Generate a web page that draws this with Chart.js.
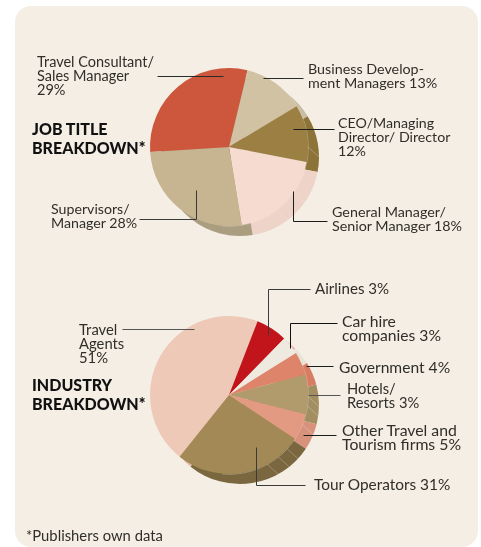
<!DOCTYPE html>
<html>
<head>
<meta charset="utf-8">
<title>Breakdown</title>
<script src="https://cdn.jsdelivr.net/npm/chart.js@4/dist/chart.umd.min.js"></script>
<style>
  html, body { margin: 0; padding: 0; background: #fff; }
  #page { position: relative; width: 481px; height: 547px; overflow: hidden; font-family: Lato, sans-serif; color: #302e29; }
  #panel { position: absolute; left: 15px; top: 6px; width: 463px; height: 541px; background: #f4eee5; border-radius: 16px; }
  canvas { position: absolute; }
  #leaders { position: absolute; left: 0; top: 0; }
  .lbl { position: absolute; line-height: 14px; white-space: pre; }
  .head { position: absolute; font-size: 16px; line-height: 18.5px; font-weight: 900; color: #111; white-space: pre; }
</style>
</head>
<body>
<div id="page">
  <div id="panel"></div>
  <canvas id="jobSide" width="200" height="200" style="left:140px;top:57px"></canvas>
  <canvas id="jobTop" width="200" height="200" style="left:129px;top:47px"></canvas>
  <canvas id="indSide" width="200" height="200" style="left:140px;top:305px"></canvas>
  <canvas id="indTop" width="200" height="200" style="left:129px;top:295px"></canvas>
  <svg id="leaders" width="481" height="547"></svg>
</div>
<script>
// job title pie, order is clockwise from the red slice
const jobCategories = ["Travel Consultant/ Sales Manager", "Business Development Managers", "CEO/Managing Director/ Director", "General Manager/ Senior Manager", "Supervisors/ Manager"];
const jobShares = [29.8, 12.6, 11.7, 19.4, 26.6]; // share as drawn, not the printed %
const jobColors = ["#cc573c", "#d1c2a4", "#9c8043", "#f5dbd0", "#c7b491"];
const jobSideColors = ["#b04c35", "#c9bda3", "#8c7338", "#eed3c8", "#ab9d7f"];
const jobRibs = [90, 125.6, 133.6, 143];

// industry pie
const indCategories = ["Travel Agents", "Airlines", "Car hire companies", "Government", "Hotels/ Resorts", "Other Travel and Tourism firms", "Tour Operators"];
const indShares = [45.1, 6.4, 3.8, 4.7, 8.1, 5.4, 26.4];
const indColors = ["#efc9b8", "#c1141b", "#eeeae0", "#de846b", "#b19a6b", "#e29a82", "#a28955"];
const indSideColors = ["#e4bdac", "#e8a8a0", "#e8e3d8", "#d77d64", "#a38e62", "#d8927c", "#7a673f"];
const indRibs = [91, 98, 112, 132.8, 141.5, 151.1];

const sideShift = { x: 11, y: 10 };
const pieRadius = 79;

// [left, top, font size, text]
const labels = [
  [37, 55, 14.5, "Travel Consultant/\nSales Manager\n29%"],
  [308, 62, 14.3, "Business Develop-\nment Managers 13%"],
  [338, 116, 14.2, "CEO/Managing\nDirector/ Director\n12%"],
  [332, 205, 14.3, "General Manager/\nSenior Manager 18%"],
  [51, 202, 14.2, "Supervisors/\nManager 28%"],
  [315, 281, 15.1, "Airlines 3%"],
  [342, 314, 15.7, "Car hire\ncompanies 3%"],
  [339, 360, 15.6, "Government 4%"],
  [347, 381, 14.7, "Hotels/\nResorts 3%"],
  [342, 423, 15.8, "Other Travel and\nTourism firms 5%"],
  [314, 477, 15.4, "Tour Operators 31%"],
  [79, 322, 14.8, "Travel\nAgents\n51%"],
  [26, 528, 14.8, "*Publishers own data"]
];
const headings = [
  [32, 120, "JOB TITLE\nBREAKDOWN*"],
  [32, 376, "INDUSTRY\nBREAKDOWN*"]
];

// leader polylines
const leaders = [
  ["157,76 223,76", "#2b2b2b"],
  ["263,78 303,78", "#2b2b2b"],
  ["293,129 334,129", "#1c1c1c"],
  ["293,191 293,221 327,221", "#1c1c1c"],
  ["196,190 196,219 139,219", "#3a3a3a"],
  ["268,335 268,289 310,289", "#3a3a3a"],
  ["290,348 290,323 337,323", "#111"],
  ["306,366 333,366", "#1c1c1c"],
  ["308,395 340,395", "#555"],
  ["303,435 336,435", "#1c1c1c"],
  ["256,447 256,485 305,485", "#3a3a3a"],
  ["122,329 194,329", "#555"]
];

const page = document.getElementById("page");
labels.forEach(function (l) {
  const d = document.createElement("div");
  d.className = "lbl";
  d.style.left = l[0] + "px";
  d.style.top = l[1] + "px";
  d.style.fontSize = l[2] + "px";
  d.textContent = l[3];
  page.appendChild(d);
});
headings.forEach(function (l) {
  const d = document.createElement("div");
  d.className = "head";
  d.style.left = l[0] + "px";
  d.style.top = l[1] + "px";
  d.textContent = l[2];
  page.appendChild(d);
});

const svg = document.getElementById("leaders");
leaders.forEach(function (l) {
  const p = document.createElementNS("http://www.w3.org/2000/svg", "polyline");
  p.setAttribute("points", l[0].split(" ").map(function (pt) {
    return pt.split(",").map(function (n) { return +n + 0.5; }).join(",");
  }).join(" "));
  p.setAttribute("fill", "none");
  p.setAttribute("stroke", l[1]);
  p.setAttribute("stroke-width", "1");
  svg.appendChild(p);
});

// thin lines on the pie's edge, and the light rim of the top face
const ribPlugin = {
  id: "ribs",
  afterDatasetsDraw: function (chart, args, opts) {
    const arc = chart.getDatasetMeta(0).data[0];
    const ctx = chart.ctx;
    const cx = arc.x - sideShift.x;
    const cy = arc.y - sideShift.y;
    ctx.save();
    ctx.strokeStyle = "rgba(245,238,229,0.4)";
    ctx.lineWidth = 0.7;
    opts.angles.forEach(function (deg) {
      const a = (deg - 90) * Math.PI / 180;
      const x = cx + pieRadius * Math.cos(a);
      const y = cy + pieRadius * Math.sin(a);
      ctx.beginPath();
      ctx.moveTo(x, y);
      ctx.lineTo(x + sideShift.x, y + sideShift.y);
      ctx.stroke();
    });
    // rim only where the edge is wide enough to show it
    ctx.lineWidth = 0.8;
    ctx.beginPath();
    ctx.arc(cx, cy, pieRadius + 0.3, -50 * Math.PI / 180, 95 * Math.PI / 180);
    ctx.stroke();
    ctx.restore();
  }
};

function drawPie(id, cats, values, colors, rotation, ribs) {
  new Chart(id, {
    type: "pie",
    data: {
      labels: cats,
      datasets: [{ data: values, backgroundColor: colors, borderWidth: 0 }]
    },
    options: {
      responsive: false,
      animation: false,
      rotation: rotation,
      radius: pieRadius,
      layout: { padding: 0 },
      plugins: { legend: { display: false }, tooltip: { enabled: false }, ribs: { angles: ribs || [] } }
    },
    plugins: ribs ? [ribPlugin] : []
  });
}

drawPie("jobSide", jobCategories, jobShares, jobSideColors, 266.4, jobRibs);
drawPie("jobTop", jobCategories, jobShares, jobColors, 266.4);
drawPie("indSide", indCategories, indShares, indSideColors, 218.7, indRibs);
drawPie("indTop", indCategories, indShares, indColors, 218.7);
</script>
</body>
</html>
